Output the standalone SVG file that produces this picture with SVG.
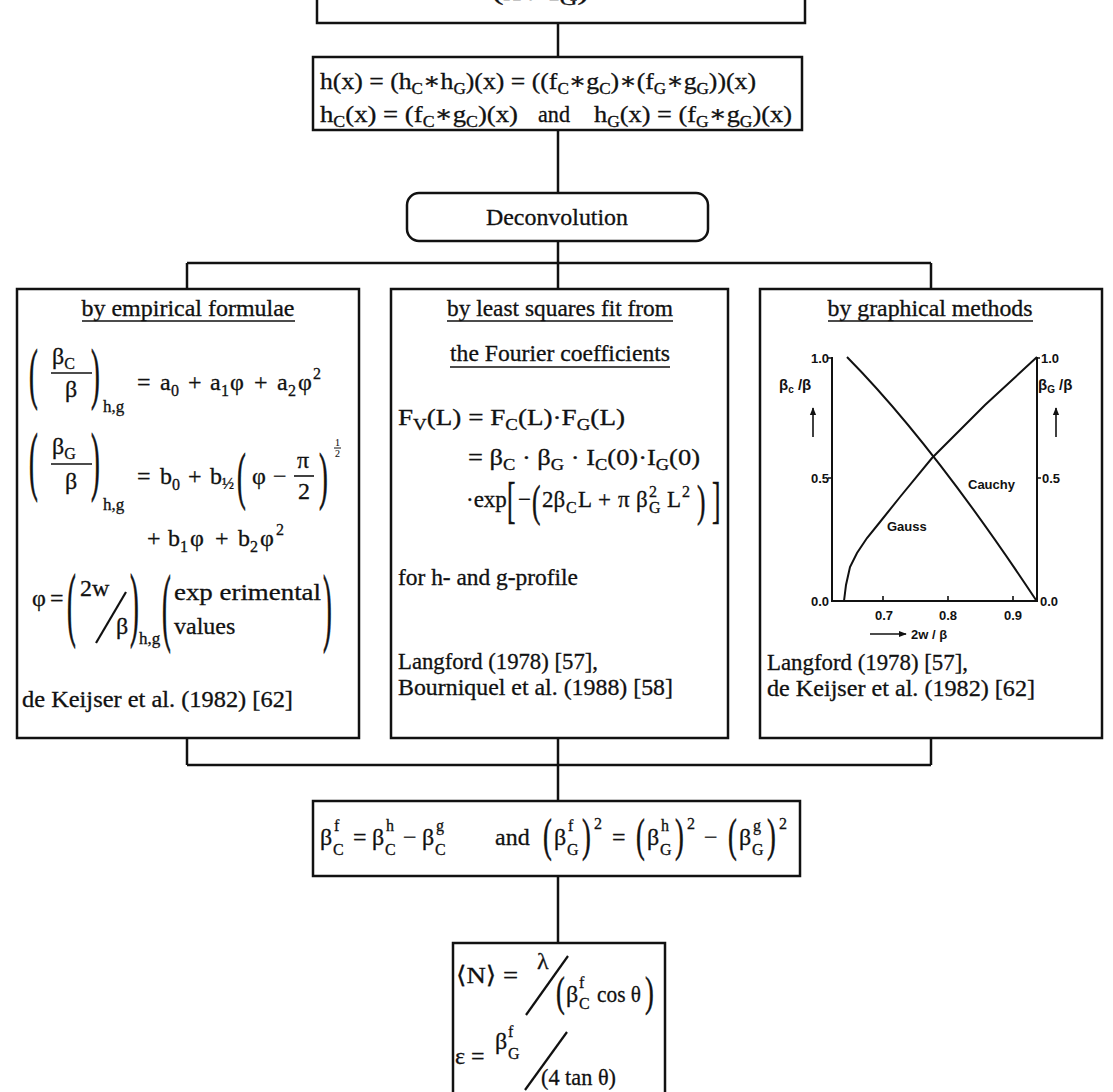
<svg xmlns="http://www.w3.org/2000/svg" width="1113" height="1092" viewBox="0 0 1113 1092">
<defs>
<style>
.t{font-family:'Liberation Serif','DejaVu Serif',serif;font-size:23px;fill:#111;stroke:#111;stroke-width:0.3}
.m{font-size:24px}
.s{font-size:16px}
.ss{font-size:10px;stroke-width:0.1}
.hs{font-size:17px}
.h{font-family:'Liberation Sans',Arial,sans-serif;font-size:13px;font-weight:bold;fill:#111}
.box{fill:#fff;stroke:#111;stroke-width:2.5}
.ln{stroke:#111;stroke-width:2.5;fill:none}
.thin{stroke:#111;stroke-width:1.6;fill:none}
.c{stroke:#111;stroke-width:2;fill:none}
</style>
<marker id="ah" viewBox="0 0 10 10" refX="9" refY="5" markerWidth="5" markerHeight="5" orient="auto"><path d="M0,1 L10,5 L0,9 z" fill="#111"/></marker>
</defs>
<rect width="1113" height="1092" fill="#fff"/>

<g id="connectors">
<line class="ln" x1="558" y1="23" x2="558" y2="57"/>
<line class="ln" x1="558" y1="130" x2="558" y2="193"/>
<line class="ln" x1="558" y1="241" x2="558" y2="263"/>
<line class="ln" x1="187" y1="263" x2="931" y2="263"/>
<line class="ln" x1="187" y1="263" x2="187" y2="289"/>
<line class="ln" x1="558" y1="263" x2="558" y2="289"/>
<line class="ln" x1="931" y1="263" x2="931" y2="289"/>
<line class="ln" x1="187" y1="738" x2="187" y2="765"/>
<line class="ln" x1="558" y1="738" x2="558" y2="765"/>
<line class="ln" x1="931" y1="738" x2="931" y2="765"/>
<line class="ln" x1="187" y1="765" x2="931" y2="765"/>
<line class="ln" x1="558" y1="765" x2="558" y2="801"/>
<line class="ln" x1="558" y1="876" x2="558" y2="943"/>
</g>

<g id="node-top">
<path class="ln" d="M317,0 V23 H805 V0"/>
<text class="t" x="492" y="0" textLength="97" lengthAdjust="spacingAndGlyphs">(x / f<tspan class="s" dy="5">G</tspan><tspan dy="-5">)</tspan></text>
</g>

<g id="node-convolution">
<rect class="box" x="313" y="57" width="489" height="73"/>
<text class="t m" x="320" y="89" textLength="436" lengthAdjust="spacingAndGlyphs">h(x) = (h<tspan class="s" dy="5">C</tspan><tspan dy="-5">∗h</tspan><tspan class="s" dy="5">G</tspan><tspan dy="-5">)(x) = ((f</tspan><tspan class="s" dy="5">C</tspan><tspan dy="-5">∗g</tspan><tspan class="s" dy="5">C</tspan><tspan dy="-5">)∗(f</tspan><tspan class="s" dy="5">G</tspan><tspan dy="-5">∗g</tspan><tspan class="s" dy="5">G</tspan><tspan dy="-5">))(x)</tspan></text>
<text class="t m" x="320" y="122" textLength="198" lengthAdjust="spacingAndGlyphs">h<tspan class="s" dy="5">C</tspan><tspan dy="-5">(x) = (f</tspan><tspan class="s" dy="5">C</tspan><tspan dy="-5">∗g</tspan><tspan class="s" dy="5">C</tspan><tspan dy="-5">)(x)</tspan></text>
<text class="t" x="538" y="122" textLength="32" lengthAdjust="spacingAndGlyphs">and</text>
<text class="t m" x="594" y="122" textLength="198" lengthAdjust="spacingAndGlyphs">h<tspan class="s" dy="5">G</tspan><tspan dy="-5">(x) = (f</tspan><tspan class="s" dy="5">G</tspan><tspan dy="-5">∗g</tspan><tspan class="s" dy="5">G</tspan><tspan dy="-5">)(x)</tspan></text>
</g>

<g id="node-deconvolution">
<rect class="box" x="407" y="193" width="301" height="48" rx="12"/>
<text class="t" x="557" y="225" text-anchor="middle" textLength="142" lengthAdjust="spacingAndGlyphs">Deconvolution</text>
</g>

<g id="node-empirical">
<rect class="box" x="17" y="289" width="342" height="449"/>
<text class="t" x="188" y="316" text-anchor="middle" textLength="213" lengthAdjust="spacingAndGlyphs">by empirical formulae</text>
<line class="thin" x1="82" y1="321" x2="295" y2="321"/>
<text class="t m" transform="translate(29,396) scale(1.1,2.85)">(</text>
<text class="t m" x="52" y="364">β<tspan class="s" dy="5">C</tspan></text>
<line class="thin" x1="51" y1="373" x2="92" y2="373"/>
<text class="t m" x="65" y="397">β</text>
<text class="t m" transform="translate(91,396) scale(1.1,2.85)">)</text>
<text class="t hs" x="103" y="412">h,g</text>
<text class="t m" y="390"><tspan x="137">=</tspan><tspan x="160">a</tspan><tspan class="s" x="171" dy="6">0</tspan><tspan x="188" dy="-6">+</tspan><tspan x="210">a</tspan><tspan class="s" x="221" dy="6">1</tspan><tspan x="230" dy="-6">φ</tspan><tspan x="254">+</tspan><tspan x="277">a</tspan><tspan class="s" x="288" dy="6">2</tspan><tspan x="298" dy="-6">φ</tspan><tspan class="s" x="313" dy="-11">2</tspan></text>
<text class="t m" transform="translate(29,486) scale(1.1,3.2)">(</text>
<text class="t m" x="52" y="454">β<tspan class="s" dy="5">G</tspan></text>
<line class="thin" x1="51" y1="464" x2="92" y2="464"/>
<text class="t m" x="65" y="489">β</text>
<text class="t m" transform="translate(91,486) scale(1.1,3.2)">)</text>
<text class="t hs" x="103" y="510">h,g</text>
<text class="t m" y="484"><tspan x="137">=</tspan><tspan x="160">b</tspan><tspan class="s" x="172" dy="6">0</tspan><tspan x="188" dy="-6">+</tspan><tspan x="210">b</tspan><tspan class="s" x="222" dy="5">½</tspan><tspan x="252" dy="-5">φ</tspan><tspan x="273">−</tspan></text>
<text class="t m" transform="translate(237,497) scale(1.1,2.6)">(</text>
<text class="t m" x="297" y="468">π</text>
<line class="thin" x1="294" y1="476" x2="314" y2="476"/>
<text class="t m" x="298" y="499">2</text>
<text class="t m" transform="translate(319,497) scale(1.1,2.6)">)</text>
<text class="t ss" x="335" y="446">1</text>
<line class="thin" x1="334" y1="448" x2="341" y2="448" style="stroke-width:1"/>
<text class="t ss" x="335" y="457">2</text>
<text class="t m" y="546"><tspan x="147">+</tspan><tspan x="168">b</tspan><tspan class="s" x="180" dy="6">1</tspan><tspan x="190" dy="-6">φ</tspan><tspan x="215">+</tspan><tspan x="238">b</tspan><tspan class="s" x="250" dy="6">2</tspan><tspan x="260" dy="-6">φ</tspan><tspan class="s" x="276" dy="-11">2</tspan></text>
<text class="t m" x="32" y="606">φ</text>
<text class="t m" x="50" y="606">=</text>
<text class="t m" transform="translate(67,631) scale(1.1,3.4)">(</text>
<text class="t m" x="80" y="596">2w</text>
<line class="c" x1="96" y1="643" x2="126" y2="592" style="stroke-width:2.2"/>
<text class="t m" x="116" y="634">β</text>
<text class="t m" transform="translate(130,631) scale(1.1,3.4)">)</text>
<text class="t hs" x="139" y="644">h,g</text>
<text class="t m" transform="translate(162,635) scale(1.1,3.6)">(</text>
<text class="t m" x="174" y="600" textLength="147" lengthAdjust="spacingAndGlyphs">exp erimental</text>
<text class="t m" x="174" y="634">values</text>
<text class="t m" transform="translate(323,635) scale(1.1,3.6)">)</text>
<text class="t" x="22" y="707" textLength="271" lengthAdjust="spacingAndGlyphs">de Keijser et al. (1982) [62]</text>
</g>

<g id="node-leastsquares">
<rect class="box" x="391" y="289" width="337" height="449"/>
<text class="t" x="560" y="316" text-anchor="middle" textLength="226" lengthAdjust="spacingAndGlyphs">by least squares fit from</text>
<line class="thin" x1="447" y1="321" x2="673" y2="321"/>
<text class="t" x="560" y="361" text-anchor="middle" textLength="220" lengthAdjust="spacingAndGlyphs">the Fourier coefficients</text>
<line class="thin" x1="450" y1="367" x2="670" y2="367"/>
<text class="t" x="398" y="425" textLength="227" lengthAdjust="spacingAndGlyphs">F<tspan class="s" dy="5">V</tspan><tspan dy="-5">(L) = F</tspan><tspan class="s" dy="5">C</tspan><tspan dy="-5">(L)·F</tspan><tspan class="s" dy="5">G</tspan><tspan dy="-5">(L)</tspan></text>
<text class="t" x="468" y="465" textLength="232" lengthAdjust="spacingAndGlyphs">= β<tspan class="s" dy="5">C</tspan><tspan dy="-5"> · β</tspan><tspan class="s" dy="5">G</tspan><tspan dy="-5"> · I</tspan><tspan class="s" dy="5">C</tspan><tspan dy="-5">(0)·I</tspan><tspan class="s" dy="5">G</tspan><tspan dy="-5">(0)</tspan></text>
<text class="t" x="466" y="507">·exp</text>
<text class="t" transform="translate(507,517) scale(1.1,2.2)">[</text>
<text class="t" x="518" y="507">−</text>
<text class="t" transform="translate(532,516) scale(1.1,1.9)">(</text>
<text class="t" y="507"><tspan x="542">2β</tspan><tspan class="s" x="566" dy="6">C</tspan><tspan x="578" dy="-6">L</tspan><tspan x="598">+</tspan><tspan x="618">π</tspan><tspan x="636">β</tspan><tspan x="667">L</tspan></text>
<text class="t s" x="649" y="497">2</text>
<text class="t s" x="649" y="513">G</text>
<text class="t s" x="682" y="497">2</text>
<text class="t" transform="translate(697,516) scale(1.1,1.9)">)</text>
<text class="t" transform="translate(712,517) scale(1.1,2.2)">]</text>
<text class="t" x="398" y="585" textLength="180" lengthAdjust="spacingAndGlyphs">for h- and g-profile</text>
<text class="t" x="398" y="669" textLength="200" lengthAdjust="spacingAndGlyphs">Langford (1978) [57],</text>
<text class="t" x="398" y="695" textLength="275" lengthAdjust="spacingAndGlyphs">Bourniquel et al. (1988) [58]</text>
</g>

<g id="node-graphical">
<rect class="box" x="760" y="289" width="342" height="449"/>
<text class="t" x="930" y="316" text-anchor="middle" textLength="205" lengthAdjust="spacingAndGlyphs">by graphical methods</text>
<line class="thin" x1="828" y1="321" x2="1033" y2="321"/>
<path class="c" d="M832,357 V601 H1037 V357"/>
<path class="thin" d="M828,358 H832 M828,478 H832 M883,601 V596 M948,601 V596 M1013,601 V596 M1037,478 H1041 M1037,358 H1040"/>
<text class="h" x="829" y="363" text-anchor="end">1.0</text>
<text class="h" x="829" y="483" text-anchor="end">0.5</text>
<text class="h" x="829" y="606" text-anchor="end">0.0</text>
<text class="h" x="1041" y="363">1.0</text>
<text class="h" x="1042" y="483">0.5</text>
<text class="h" x="1040" y="606">0.0</text>
<text class="h" x="884" y="620" text-anchor="middle">0.7</text>
<text class="h" x="948" y="620" text-anchor="middle">0.8</text>
<text class="h" x="1013" y="620" text-anchor="middle">0.9</text>
<line class="thin" x1="870" y1="634" x2="906" y2="634" marker-end="url(#ah)"/>
<text class="h" x="911" y="639">2w / β</text>
<text class="h" x="779" y="390" style="font-size:15px">β<tspan dy="3" style="font-size:10px">c</tspan><tspan dy="-3"> /β</tspan></text>
<line class="thin" x1="813" y1="437" x2="813" y2="408" marker-end="url(#ah)"/>
<text class="h" x="1038" y="390" style="font-size:15px">β<tspan dy="3" style="font-size:10px">G</tspan><tspan dy="-3"> /β</tspan></text>
<line class="thin" x1="1056" y1="437" x2="1056" y2="408" marker-end="url(#ah)"/>
<path class="c" d="M847,357 Q932,443 1036,600"/>
<polyline class="c" points="844,601 846,585 850,567 857,553 867,538 880,522 900,497 932,458 985,405 1037,357"/>
<text class="h" x="968" y="489">Cauchy</text>
<text class="h" x="887" y="531">Gauss</text>
<text class="t" x="767" y="670" textLength="201" lengthAdjust="spacingAndGlyphs">Langford (1978) [57],</text>
<text class="t" x="767" y="696" textLength="268" lengthAdjust="spacingAndGlyphs">de Keijser et al. (1982) [62]</text>
</g>

<g id="node-separation">
<rect class="box" x="313" y="801" width="487" height="75"/>
<text class="t m" y="845"><tspan x="320">β</tspan><tspan x="353">=</tspan><tspan x="372">β</tspan><tspan x="403">−</tspan><tspan x="422">β</tspan><tspan x="495">and</tspan><tspan x="554">β</tspan><tspan x="612">=</tspan><tspan x="647">β</tspan><tspan x="704">−</tspan><tspan x="739">β</tspan></text>
<text class="t s" y="831"><tspan x="334">f</tspan><tspan x="386">h</tspan><tspan x="436">g</tspan><tspan x="568">f</tspan><tspan x="661">h</tspan><tspan x="753">g</tspan></text>
<text class="t s" y="855"><tspan x="333">C</tspan><tspan x="385">C</tspan><tspan x="435">C</tspan><tspan x="567">G</tspan><tspan x="660">G</tspan><tspan x="752">G</tspan></text>
<text class="t s" y="829"><tspan x="594">2</tspan><tspan x="687">2</tspan><tspan x="779">2</tspan></text>
<text class="t m" transform="translate(543,851) scale(1.1,1.9)">(</text>
<text class="t m" transform="translate(582,851) scale(1.1,1.9)">)</text>
<text class="t m" transform="translate(636,851) scale(1.1,1.9)">(</text>
<text class="t m" transform="translate(675,851) scale(1.1,1.9)">)</text>
<text class="t m" transform="translate(728,851) scale(1.1,1.9)">(</text>
<text class="t m" transform="translate(767,851) scale(1.1,1.9)">)</text>
</g>

<g id="node-result">
<rect class="box" x="453" y="943" width="212" height="170"/>
<text class="t m" x="456" y="983" textLength="62" lengthAdjust="spacingAndGlyphs">⟨N⟩ =</text>
<text class="t m" x="537" y="969">λ</text>
<line class="c" x1="526" y1="1015" x2="568" y2="956" style="stroke-width:2.2"/>
<text class="t m" transform="translate(556,1006) scale(1.1,1.75)">(</text>
<text class="t m" x="566" y="1002">β</text>
<text class="t s" x="579" y="988">f</text>
<text class="t s" x="579" y="1009">C</text>
<text class="t m" x="597" y="1002" textLength="44" lengthAdjust="spacingAndGlyphs">cos θ</text>
<text class="t m" transform="translate(645,1006) scale(1.1,1.75)">)</text>
<text class="t m" x="455" y="1064">ε =</text>
<text class="t m" x="495" y="1049">β</text>
<text class="t s" x="508" y="1037">f</text>
<text class="t s" x="508" y="1059">G</text>
<line class="c" x1="525" y1="1090" x2="567" y2="1032" style="stroke-width:2.2"/>
<text class="t m" x="541" y="1085" textLength="75" lengthAdjust="spacingAndGlyphs">(4 tan θ)</text>
</g>
</svg>
